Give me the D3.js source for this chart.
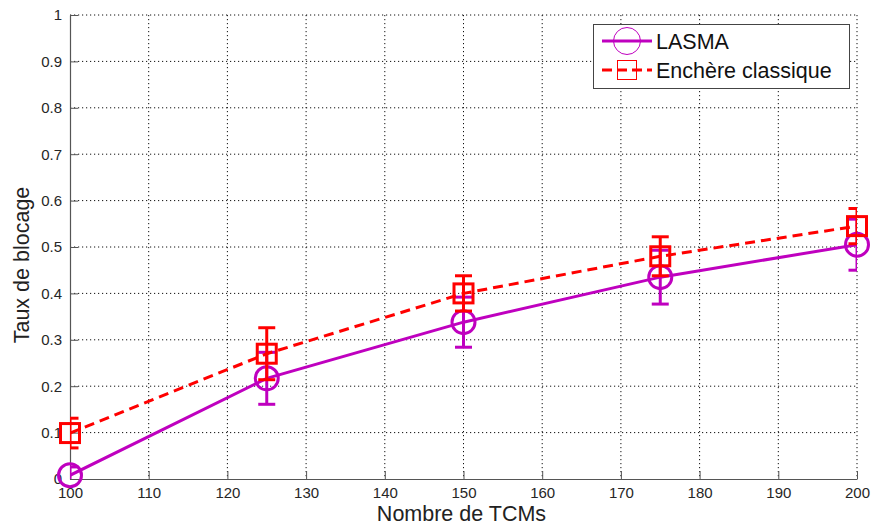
<!DOCTYPE html>
<html>
<head>
<meta charset="utf-8">
<script src="https://cdn.jsdelivr.net/npm/d3@7"></script>
<style>
  html, body { margin: 0; padding: 0; background: #fff; }
  svg { display: block; font-family: "Liberation Sans", Arial, sans-serif; }
</style>
</head>
<body>
<svg id="chart" width="873" height="526"></svg>
<script>
// ---- data ----
const nombreTCMs = [100, 125, 150, 175, 200];
const lasma = [0.008, 0.217, 0.338, 0.435, 0.505];
const lasmaErr = [0.018, 0.056, 0.054, 0.058, 0.055];
const enchere = [0.099, 0.27, 0.40, 0.48, 0.545];
const enchereErr = [0.032, 0.056, 0.038, 0.042, 0.038];
const xTicks = [100, 110, 120, 130, 140, 150, 160, 170, 180, 190, 200];
const yTicks = [0, 0.1, 0.2, 0.3, 0.4, 0.5, 0.6, 0.7, 0.8, 0.9, 1];
const seriesNames = ["LASMA", "Enchère classique"];

(function () {
const svg = d3.select("#chart");
const pL = 70, pR = 857, pT = 15, pB = 479;
const x = d3.scaleLinear().domain([100, 200]).range([pL, pR]);
const y = d3.scaleLinear().domain([0, 1]).range([pB, pT]);

const purple = "#bf00bf", red = "#ff0000";

svg.append("defs").append("clipPath").attr("id", "plotclip")
  .attr("clipPathUnits", "userSpaceOnUse")
  .append("rect").attr("x", pL).attr("y", pT).attr("width", pR - pL).attr("height", pB - pT);

// grid
const grid = svg.append("g");
grid.selectAll(".gx").data(xTicks.slice(1)).join("line")
  .attr("x1", d => x(d)).attr("x2", d => x(d)).attr("y1", pT).attr("y2", pB)
  .attr("stroke", "#111").attr("stroke-width", 1).attr("stroke-dasharray", "1.2,2.8");
grid.selectAll(".gy").data(yTicks.slice(1)).join("line")
  .attr("x1", pL).attr("x2", pR).attr("y1", d => y(d)).attr("y2", d => y(d))
  .attr("stroke", "#111").attr("stroke-width", 1).attr("stroke-dasharray", "1.2,2.8");

// axes
const xAxis = d3.axisBottom(x).tickValues(xTicks).tickSizeInner(-8).tickSizeOuter(0).tickPadding(11).tickFormat(d3.format("d"));
const yAxis = d3.axisLeft(y).tickValues(yTicks).tickSizeInner(-8).tickSizeOuter(0).tickPadding(8).tickFormat(d => d === 0 || d === 1 ? String(d) : d3.format(".1f")(d));

const gx = svg.append("g").attr("transform", `translate(0,${pB})`).call(xAxis);
const gy = svg.append("g").attr("transform", `translate(${pL},0)`).call(yAxis);
[gx, gy].forEach(g => {
  g.select(".domain").attr("stroke", "#555").attr("stroke-width", 1.2);
  g.selectAll(".tick line").attr("stroke", "#555").attr("stroke-width", 1);
  g.selectAll(".tick text").attr("fill", "#262626").style("font-size", "15px").style("font-family", "'Liberation Sans', Arial, sans-serif");
});
gx.selectAll(".tick text").attr("dy", "0.55em");

// axis labels
svg.append("text").attr("x", (pL + pR) / 2 - 2).attr("y", 521).attr("text-anchor", "middle")
  .style("font-size", "21.5px").attr("fill", "#222").text("Nombre de TCMs");
svg.append("text").attr("transform", "translate(29,265) rotate(-90)").attr("text-anchor", "middle")
  .style("font-size", "21.5px").attr("fill", "#222").text("Taux de blocage");

// series
const line = d3.line().x(d => x(d[0])).y(d => y(d[1]));
function drawSeries(vals, errs, color, dash, marker) {
  const pts = nombreTCMs.map((t, i) => [t, vals[i], errs[i]]);
  const clipG = svg.append("g").attr("clip-path", "url(#plotclip)");
  clipG.append("path").datum(pts).attr("d", line).attr("fill", "none")
    .attr("stroke", color).attr("stroke-width", 3).attr("stroke-dasharray", dash);
  const cap = 8.5;
  const eb = clipG.selectAll(null).data(pts).join("g");
  eb.append("line").attr("x1", d => x(d[0])).attr("x2", d => x(d[0]))
    .attr("y1", d => y(d[1] - d[2])).attr("y2", d => y(d[1] + d[2]))
    .attr("stroke", color).attr("stroke-width", 3);
  [-1, 1].forEach(s => {
    eb.append("line").attr("x1", d => x(d[0]) - cap).attr("x2", d => x(d[0]) + cap)
      .attr("y1", d => y(d[1] + s * d[2])).attr("y2", d => y(d[1] + s * d[2]))
      .attr("stroke", color).attr("stroke-width", 3);
  });
  const mg = svg.append("g");
  if (marker === "circle") {
    mg.selectAll(null).data(pts).join("circle")
      .attr("cx", d => x(d[0])).attr("cy", d => y(d[1])).attr("r", 11.5)
      .attr("fill", "none").attr("stroke", color).attr("stroke-width", 3);
  } else {
    mg.selectAll(null).data(pts).join("rect")
      .attr("x", d => x(d[0]) - 9.5).attr("y", d => y(d[1]) - 9.5).attr("width", 19).attr("height", 19)
      .attr("fill", "none").attr("stroke", color).attr("stroke-width", 3);
  }
}
drawSeries(lasma, lasmaErr, purple, null, "circle");
drawSeries(enchere, enchereErr, red, "10,6", "square");

// legend
const lg = svg.append("g");
lg.append("rect").attr("x", 593.5).attr("y", 24.5).attr("width", 256).attr("height", 64)
  .attr("fill", "#fff").attr("stroke", "#444").attr("stroke-width", 1);
const rows = [
  { name: seriesNames[0], color: purple, dash: null, marker: "circle", cy: 41 },
  { name: seriesNames[1], color: red, dash: "10,5", marker: "square", cy: 70 }
];
rows.forEach(r => {
  lg.append("line").attr("x1", 602).attr("x2", 652).attr("y1", r.cy).attr("y2", r.cy)
    .attr("stroke", r.color).attr("stroke-width", 3).attr("stroke-dasharray", r.dash);
  if (r.marker === "circle") {
    lg.append("circle").attr("cx", 627).attr("cy", r.cy).attr("r", 13.5)
      .attr("fill", "none").attr("stroke", r.color).attr("stroke-width", 1);
  } else {
    lg.append("rect").attr("x", 627 - 9.5).attr("y", r.cy - 9.5).attr("width", 19).attr("height", 19)
      .attr("fill", "none").attr("stroke", r.color).attr("stroke-width", 1);
  }
  lg.append("text").attr("x", 656).attr("y", r.cy + 7.5).style("font-size", "21.5px")
    .attr("fill", "#111").text(r.name);
});
})();
</script>
</body>
</html>
